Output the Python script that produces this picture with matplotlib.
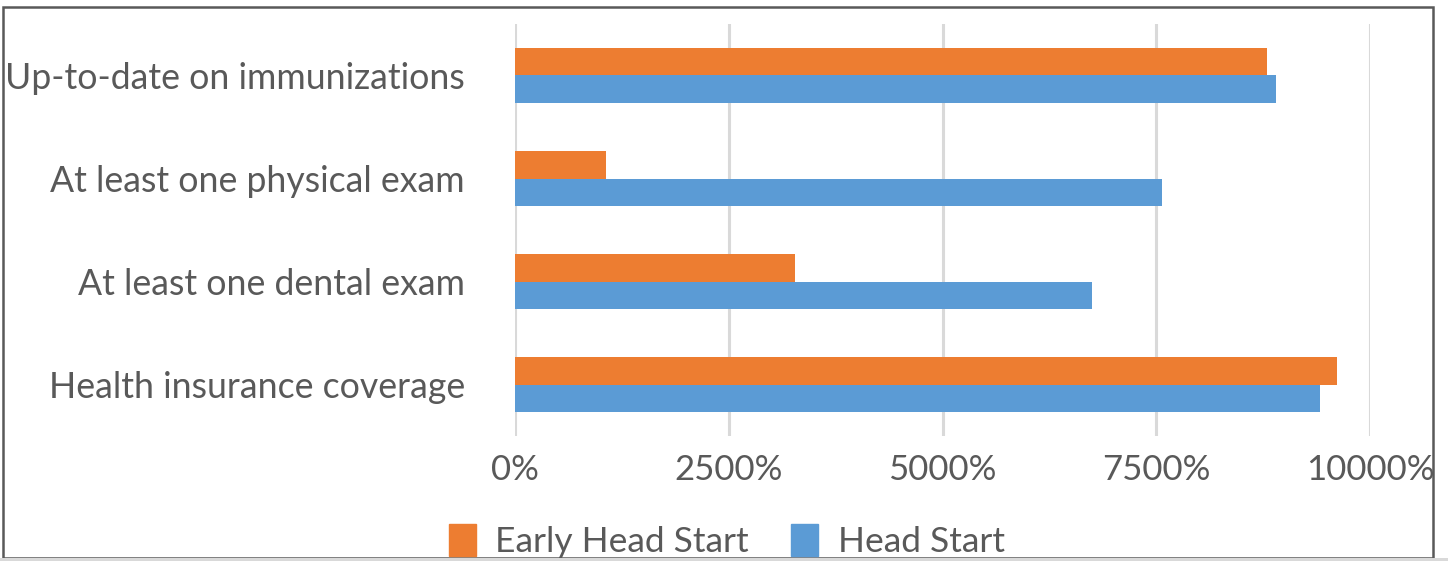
import matplotlib
matplotlib.use("Agg")
import matplotlib.pyplot as plt
from matplotlib.patches import Rectangle, Patch
import numpy as np

plt.rcParams['font.family'] = ['Lato', 'DejaVu Sans']

# data (bars; axis is labelled in "%" x100)
categories = ["Up-to-date on immunizations", "At least one physical exam",
              "At least one dental exam", "Health insurance coverage"]
early_head_start = [88, 10.7, 32.7, 96.1]
head_start = [89, 75.7, 67.5, 94.1]
tick_vals = [0, 25, 50, 75, 100]
tick_labels = ["0%", "2500%", "5000%", "7500%", "10000%"]

orange = "#ED7D31"
blue = "#5B9BD5"
text_col = "#595959"

fig = plt.figure(figsize=(14.48, 5.61), dpi=100)
ax = fig.add_axes([515/1448, 1 - 436/561, (1370 - 515)/1448, (436 - 24)/561])

y = np.arange(len(categories))[::-1]
h = 0.27
ax.barh(y + h/2, early_head_start, height=h, color=orange, zorder=3, label="Early Head Start")
ax.barh(y - h/2, head_start, height=h, color=blue, zorder=3, label="Head Start")

ax.set_xlim(0, 100)
ax.set_ylim(-0.5, len(categories) - 0.5)
ax.set_xticks(tick_vals)
ax.set_xticklabels(tick_labels)
ax.set_yticks(y)
ax.set_yticklabels(categories)
ax.tick_params(axis='y', length=0, pad=36, labelsize=25.7, labelcolor=text_col)
ax.tick_params(axis='x', length=0, pad=13, labelsize=25, labelcolor=text_col)
ax.grid(axis='x', color="#D9D9D9", linewidth=2.2, zorder=0)
for s in ax.spines.values():
    s.set_visible(False)

# legend sits at the very bottom, partly clipped like the original
handles = [Patch(color=orange, label="Early Head Start"), Patch(color=blue, label="Head Start")]
fig.legend(handles=handles, loc='lower center', bbox_to_anchor=(0.502, -0.052), ncol=2,
           frameon=False, fontsize=25.5, labelcolor=text_col, handlelength=0.75,
           handleheight=1.0, handletextpad=0.55, columnspacing=1.2)

# chart border
fig.patches.append(Rectangle((3/1448, 3/561), 1430/1448, 551/561, transform=fig.transFigure,
                             fill=False, edgecolor="#595959", linewidth=1.8))
fig.patches.append(Rectangle((0, 0), 1, 3/561, transform=fig.transFigure,
                             facecolor="#D9D9D9", edgecolor="none"))

fig.savefig("out.png", dpi=100)
